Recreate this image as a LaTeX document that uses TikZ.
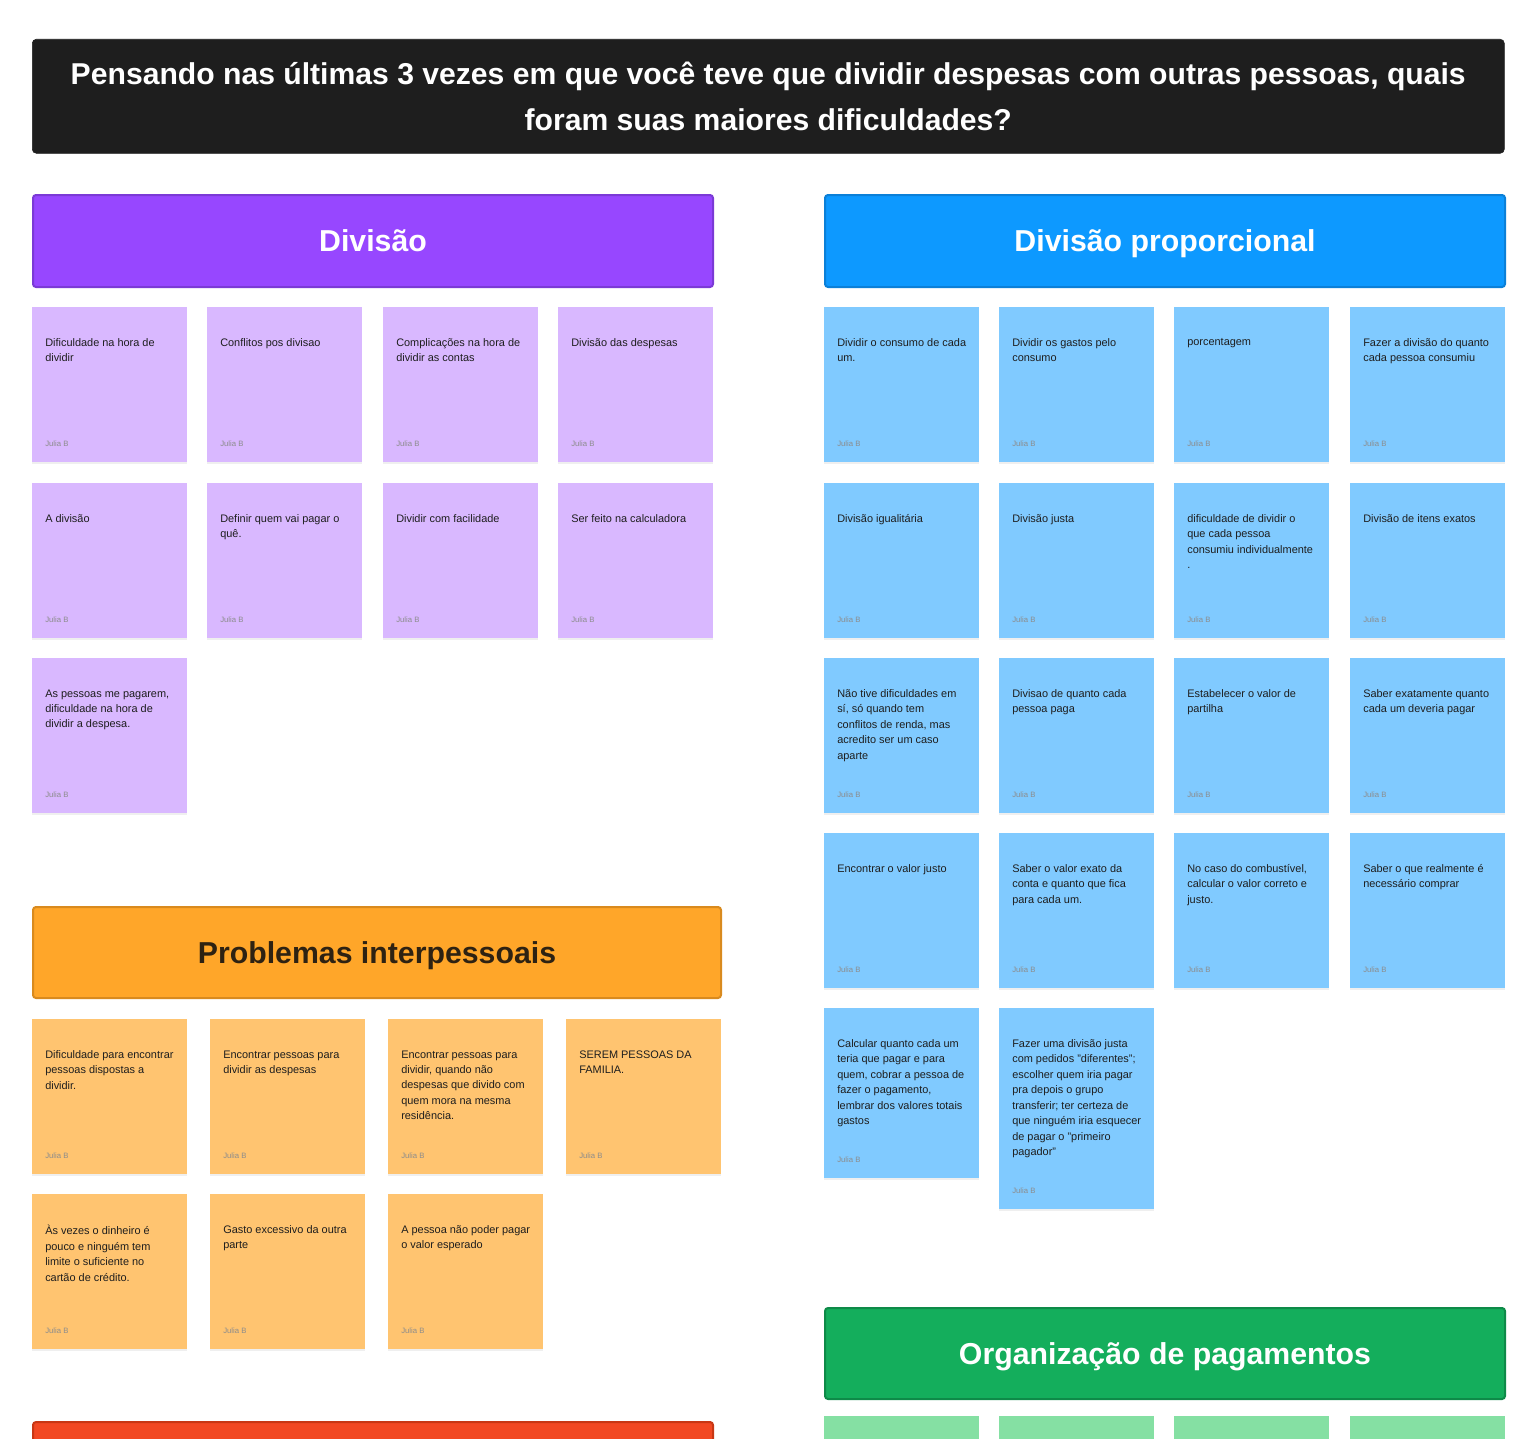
\documentclass[tikz,border=0pt]{standalone}
\usepackage{fontspec}
\setmainfont{Liberation Sans}
\usetikzlibrary{shadows}

\definecolor{quadro}{HTML}{1E1E1E}
\definecolor{roxo}{HTML}{9747FF}
\definecolor{roxoborda}{HTML}{7B3AD6}
\definecolor{azul}{HTML}{0D99FF}
\definecolor{azulborda}{HTML}{0B80D8}
\definecolor{laranja}{HTML}{FFA629}
\definecolor{laranjaborda}{HTML}{D98A1E}
\definecolor{laranjatexto}{HTML}{2E2212}
\definecolor{verde}{HTML}{14AE5C}
\definecolor{verdeborda}{HTML}{0E8A48}
\definecolor{vermelho}{HTML}{F24822}
\definecolor{vermelhoborda}{HTML}{C83714}
\definecolor{notaroxo}{HTML}{D9B8FF}
\definecolor{notaazul}{HTML}{80CAFF}
\definecolor{notalaranja}{HTML}{FFC470}
\definecolor{notaverde}{HTML}{85E0A3}

\tikzset{
  titulo/.style={anchor=north west, fill=quadro, draw=quadro, rounded corners=3pt,
    minimum width=1104pt, minimum height=85.5pt, align=center, text=white,
    font=\bfseries\fontsize{22.6}{34.5}\selectfont},
  cabecalho/.style={anchor=north west, rounded corners=2.25pt, line width=1.5pt,
    minimum width=510pt, minimum height=69pt, text=white,
    text height=20.9pt, text depth=4.5pt,
    font=\bfseries\fontsize{22.7}{26}\selectfont},
  folha/.style={anchor=north west, minimum width=116.25pt, minimum height=116.25pt,
    inner sep=0pt,
    drop shadow={opacity=0.12, shadow xshift=0pt, shadow yshift=-1.5pt}},
  nota/.style={folha, label={[autor]south west:Julia B}},
  texto/.style={anchor=north west, inner sep=0pt, xshift=9.75pt, yshift=-23.4pt,
    align=left, text=quadro, font=\fontsize{8.2}{11.6}\selectfont},
  autor/.style={anchor=base west, inner sep=0pt, xshift=9.75pt, yshift=12.4pt,
    text=black!45, font=\fontsize{5.8}{7}\selectfont}
}

\begin{document}
\begin{tikzpicture}[x=0.75pt, y=-0.75pt]

\useasboundingbox (0,0) rectangle (1540,1438);
\fill[white] (0,0) rectangle (1540,1438);
\clip (0,0) rectangle (1540,1438);

% Pergunta
\node[titulo] (pergunta)
at (32,39)
{Pensando nas últimas 3 vezes em que você teve que dividir despesas com outras pessoas, quais\\
foram suas maiores dificuldades?};

% Divisão
\node[cabecalho, fill=roxo, draw=roxoborda] (divisao)
at (32,194)
{Divisão};

\node[nota, fill=notaroxo] (d1) at (32,307) {};
\node[texto] (d1x) at (d1.north west) {Dificuldade na hora de\\dividir};

\node[nota, fill=notaroxo] (d2) at (207,307) {};
\node[texto] (d2x) at (d2.north west) {Conflitos pos divisao};

\node[nota, fill=notaroxo] (d3) at (383,307) {};
\node[texto] (d3x) at (d3.north west) {Complicações na hora de\\dividir as contas};

\node[nota, fill=notaroxo] (d4) at (558,307) {};
\node[texto] (d4x) at (d4.north west) {Divisão das despesas};

\node[nota, fill=notaroxo] (d5) at (32,483) {};
\node[texto] (d5x) at (d5.north west) {A divisão};

\node[nota, fill=notaroxo] (d6) at (207,483) {};
\node[texto] (d6x) at (d6.north west) {Definir quem vai pagar o\\quê.};

\node[nota, fill=notaroxo] (d7) at (383,483) {};
\node[texto] (d7x) at (d7.north west) {Dividir com facilidade};

\node[nota, fill=notaroxo] (d8) at (558,483) {};
\node[texto] (d8x) at (d8.north west) {Ser feito na calculadora};

\node[nota, fill=notaroxo] (d9) at (32,658) {};
\node[texto] (d9x) at (d9.north west) {As pessoas me pagarem,\\dificuldade na hora de\\dividir a despesa.};

% Divisão proporcional
\node[cabecalho, fill=azul, draw=azulborda] (proporcional)
at (824,194)
{Divisão proporcional};

\node[nota, fill=notaazul] (p1) at (824,307) {};
\node[texto] (p1x) at (p1.north west) {Dividir o consumo de cada\\um.};

\node[nota, fill=notaazul] (p2) at (999,307) {};
\node[texto] (p2x) at (p2.north west) {Dividir os gastos pelo\\consumo};

\node[nota, fill=notaazul] (p3) at (1174,307) {};
\node[texto] (p3x) at (p3.north west) {porcentagem};

\node[nota, fill=notaazul] (p4) at (1350,307) {};
\node[texto] (p4x) at (p4.north west) {Fazer a divisão do quanto\\cada pessoa consumiu};

\node[nota, fill=notaazul] (p5) at (824,483) {};
\node[texto] (p5x) at (p5.north west) {Divisão igualitária};

\node[nota, fill=notaazul] (p6) at (999,483) {};
\node[texto] (p6x) at (p6.north west) {Divisão justa};

\node[nota, fill=notaazul] (p7) at (1174,483) {};
\node[texto] (p7x) at (p7.north west) {dificuldade de dividir o\\que cada pessoa\\consumiu individualmente\\.};

\node[nota, fill=notaazul] (p8) at (1350,483) {};
\node[texto] (p8x) at (p8.north west) {Divisão de itens exatos};

\node[nota, fill=notaazul] (p9) at (824,658) {};
\node[texto] (p9x) at (p9.north west) {Não tive dificuldades em\\sí, só quando tem\\conflitos de renda, mas\\acredito ser um caso\\aparte};

\node[nota, fill=notaazul] (p10) at (999,658) {};
\node[texto] (p10x) at (p10.north west) {Divisao de quanto cada\\pessoa paga};

\node[nota, fill=notaazul] (p11) at (1174,658) {};
\node[texto] (p11x) at (p11.north west) {Estabelecer o valor de\\partilha};

\node[nota, fill=notaazul] (p12) at (1350,658) {};
\node[texto] (p12x) at (p12.north west) {Saber exatamente quanto\\cada um deveria pagar};

\node[nota, fill=notaazul] (p13) at (824,833) {};
\node[texto] (p13x) at (p13.north west) {Encontrar o valor justo};

\node[nota, fill=notaazul] (p14) at (999,833) {};
\node[texto] (p14x) at (p14.north west) {Saber o valor exato da\\conta e quanto que fica\\para cada um.};

\node[nota, fill=notaazul] (p15) at (1174,833) {};
\node[texto] (p15x) at (p15.north west) {No caso do combustível,\\calcular o valor correto e\\justo.};

\node[nota, fill=notaazul] (p16) at (1350,833) {};
\node[texto] (p16x) at (p16.north west) {Saber o que realmente é\\necessário comprar};

\node[nota, fill=notaazul, minimum height=127.5pt] (p17) at (824,1008) {};
\node[texto] (p17x) at (p17.north west) {Calcular quanto cada um\\teria que pagar e para\\quem, cobrar a pessoa de\\fazer o pagamento,\\lembrar dos valores totais\\gastos};

\node[nota, fill=notaazul, minimum height=150.75pt] (p18) at (999,1008) {};
\node[texto] (p18x) at (p18.north west) {Fazer uma divisão justa\\com pedidos "diferentes";\\escolher quem iria pagar\\pra depois o grupo\\transferir; ter certeza de\\que ninguém iria esquecer\\de pagar o "primeiro\\pagador"};

% Problemas interpessoais
\node[cabecalho, fill=laranja, draw=laranjaborda, text=laranjatexto,
  minimum width=516pt, minimum height=68.25pt] (interpessoais)
at (32,906)
{Problemas interpessoais};

\node[nota, fill=notalaranja] (i1) at (32,1019) {};
\node[texto] (i1x) at (i1.north west) {Dificuldade para encontrar\\pessoas dispostas a\\dividir.};

\node[nota, fill=notalaranja] (i2) at (210,1019) {};
\node[texto] (i2x) at (i2.north west) {Encontrar pessoas para\\dividir as despesas};

\node[nota, fill=notalaranja] (i3) at (388,1019) {};
\node[texto] (i3x) at (i3.north west) {Encontrar pessoas para\\dividir, quando não\\despesas que divido com\\quem mora na mesma\\residência.};

\node[nota, fill=notalaranja] (i4) at (566,1019) {};
\node[texto] (i4x) at (i4.north west) {SEREM PESSOAS DA\\FAMILIA.};

\node[nota, fill=notalaranja] (i5) at (32,1194) {};
\node[texto] (i5x) at (i5.north west) {Às vezes o dinheiro é\\pouco e ninguém tem\\limite o suficiente no\\cartão de crédito.};

\node[nota, fill=notalaranja] (i6) at (210,1194) {};
\node[texto] (i6x) at (i6.north west) {Gasto excessivo da outra\\parte};

\node[nota, fill=notalaranja] (i7) at (388,1194) {};
\node[texto] (i7x) at (i7.north west) {A pessoa não poder pagar\\o valor esperado};

% Organização de pagamentos
\node[cabecalho, fill=verde, draw=verdeborda, minimum height=68.25pt] (pagamentos)
at (824,1307)
{Organização de pagamentos};

\node[folha, fill=notaverde] (g1) at (824,1416) {};
\node[folha, fill=notaverde] (g2) at (999,1416) {};
\node[folha, fill=notaverde] (g3) at (1174,1416) {};
\node[folha, fill=notaverde] (g4) at (1350,1416) {};

% Grupo vermelho (cortado)
\node[cabecalho, fill=vermelho, draw=vermelhoborda] (vermelho)
at (32,1421)
{};

\end{tikzpicture}
\end{document}
